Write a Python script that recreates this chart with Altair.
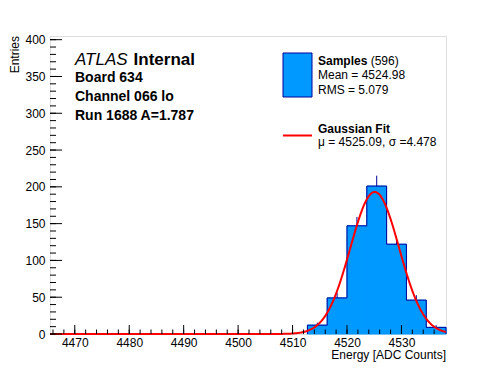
import altair as alt
import pandas as pd
import numpy as np

# ---- data ----
X_MIN, X_MAX = 4465.45, 4538.18
Y_MAX = 405
bin_lo = [4512.73, 4516.36, 4520.00, 4523.64, 4527.27, 4530.91, 4534.55]
bin_hi = [4516.36, 4520.00, 4523.64, 4527.27, 4530.91, 4534.55, 4538.18]
counts = [12, 49, 147, 201, 122, 46, 9]
fit_mu, fit_sigma, fit_amp = 4525.09, 4.478, 193.0
x_major = [4470, 4480, 4490, 4500, 4510, 4520, 4530]
x_minor = list(range(4466, 4538, 2))
y_major = [0, 50, 100, 150, 200, 250, 300, 350, 400]
y_minor = list(range(0, 406, 10))

FILL = "#0099ff"
LINE = "#000099"
FONT = "Liberation Sans"
W, H = 396, 298

bins = pd.DataFrame({"lo": bin_lo, "hi": bin_hi, "count": counts})
bins["center"] = (bins["lo"] + bins["hi"]) / 2
bins["top"] = bins["count"] + np.sqrt(bins["count"])

step = pd.DataFrame({
    "x": [bin_lo[0]] + bin_lo + [bin_hi[-1]],
    "y": [0] + counts + [0],
    "o": list(range(len(counts) + 2)),
})

xs = alt.Scale(domain=[X_MIN, X_MAX], nice=False, zero=False)
ys = alt.Scale(domain=[0, Y_MAX], nice=False, zero=True)

x_axis = alt.Axis(values=x_major, ticks=False, domain=False, grid=False,
                  labelFont=FONT, labelFontSize=12, labelColor="black",
                  labelPadding=3, title=None, format="d", labelFlush=False)
y_axis = alt.Axis(values=y_major, ticks=False, domain=False, grid=False,
                  labelFont=FONT, labelFontSize=12, labelColor="black",
                  labelPadding=5, title=None, format="d", labelFlush=False)


def X(f):
    return alt.X(f, scale=xs, axis=x_axis)


def Y(f):
    return alt.Y(f, scale=ys, axis=y_axis)


fill = alt.Chart(bins).mark_rect(color=FILL, stroke=FILL, strokeWidth=1).encode(
    x=X("lo:Q"),
    x2="hi:Q",
    y=Y("count:Q"),
    y2=alt.datum(0),
)

errs = alt.Chart(bins).mark_rule(color=LINE, strokeWidth=1).encode(
    x=X("center:Q"),
    y=Y("count:Q"),
    y2="top:Q",
)

outline = alt.Chart(step).mark_line(color=LINE, strokeWidth=1, interpolate="step-after").encode(
    x=X("x:Q"),
    y=Y("y:Q"),
    order="o:Q",
)

fit = alt.Chart(alt.sequence(X_MIN, X_MAX + 0.01, 0.1, as_="e")).transform_calculate(
    g=f"{fit_amp} * exp(-0.5 * pow((datum.e - {fit_mu}) / {fit_sigma}, 2))"
).mark_line(color="#ff0000", strokeWidth=2, clip=False).encode(
    x=X("e:Q"),
    y=Y("g:Q"),
)

# inner ticks (ROOT style)
ymaj = alt.Chart(pd.DataFrame({"v": y_major})).mark_rule(color="black").encode(
    y=Y("v:Q"), x=alt.value(0), x2=alt.value(12))
ymin = alt.Chart(pd.DataFrame({"v": y_minor})).mark_rule(color="black").encode(
    y=Y("v:Q"), x=alt.value(0), x2=alt.value(6))
xmaj = alt.Chart(pd.DataFrame({"v": x_major})).mark_rule(color="black").encode(
    x=X("v:Q"), y=alt.value(H), y2=alt.value(H - 9))
xmin = alt.Chart(pd.DataFrame({"v": x_minor})).mark_rule(color="black").encode(
    x=X("v:Q"), y=alt.value(H), y2=alt.value(H - 4.5))

one = pd.DataFrame({"a": [0]})


def txt(s, x, y, size=12, weight="normal", style="normal", align="left", angle=0, baseline="alphabetic"):
    kw = dict(text=s, font=FONT, fontSize=size, fontWeight=weight, fontStyle=style,
              align=align, baseline=baseline, color="black")
    if angle:
        kw["angle"] = angle
    return alt.Chart(one).mark_text(**kw).encode(x=alt.value(x), y=alt.value(y))


texts = [
    txt("ATLAS", 25, 29, size=17, style="italic"),
    txt("Internal", 83.6, 29, size=17, weight="bold"),
    txt("Board 634", 25, 46, size=14, weight="bold"),
    txt("Channel 066 lo", 25, 65, size=14, weight="bold"),
    txt("Run 1688 A=1.787", 25, 84, size=14, weight="bold"),
    txt("Samples", 268, 29, weight="bold"),
    txt("(596)", 320.7, 29),
    txt("Mean = 4524.98", 268, 43),
    txt("RMS = 5.079", 268, 58),
    txt("Gaussian Fit", 268, 97, weight="bold"),
    txt("\u03bc = 4525.09, \u03c3 =4.478", 268, 110),
    txt("Entries", -35, 0, align="right", angle=270, baseline="middle"),
    txt("Energy [ADC Counts]", W, 323, align="right"),
]

leg_box = alt.Chart(one).mark_rect(fill=FILL, stroke=LINE, strokeWidth=1).encode(
    x=alt.value(233), x2=alt.value(262), y=alt.value(17), y2=alt.value(61))
leg_line = alt.Chart(one).mark_rule(color="#ff0000", strokeWidth=2).encode(
    x=alt.value(233), x2=alt.value(262), y=alt.value(99.5))

chart = alt.layer(
    fill, errs, outline, fit, ymaj, ymin, xmaj, xmin, leg_box, leg_line, *texts
).properties(
    width=W, height=H,
    autosize="none",
    padding={"left": 42, "top": 28, "right": 30, "bottom": 30},
).configure_view(
    stroke="black", strokeWidth=1
).configure(background="white")

chart.save("out.html", embed_options={"renderer": "svg", "actions": False})
